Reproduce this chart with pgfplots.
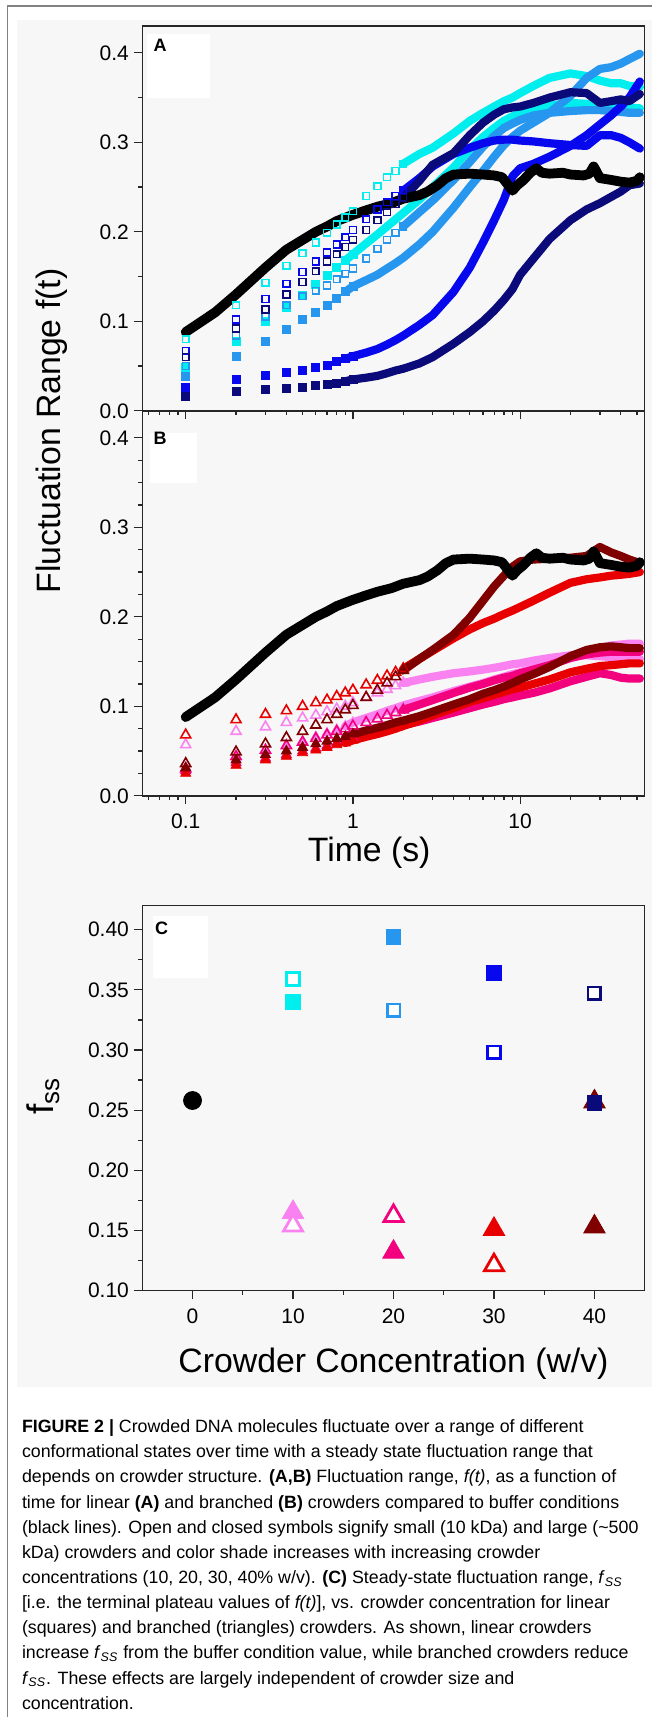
\documentclass[border=0pt]{standalone}
\usepackage{pgfplots}
\pgfplotsset{compat=1.18}
\usepackage{pgfplotstable}
\usepackage{fontspec}
\setmainfont{Liberation Sans}

\definecolor{ccyan}{RGB}{0,238,238}
\definecolor{cdodger}{RGB}{38,150,238}
\definecolor{cblue}{RGB}{8,8,238}
\definecolor{cnavy}{RGB}{10,10,122}
\definecolor{cviolet}{RGB}{250,130,240}
\definecolor{cpink}{RGB}{242,0,125}
\definecolor{cred}{RGB}{232,0,0}
\definecolor{cdred}{RGB}{128,0,0}
\definecolor{bggray}{RGB}{247,247,247}
\definecolor{framegray}{RGB}{130,130,130}

% panel A: linear crowders (s1/s2 10%, s3/s4 20%, s5/s6 30%, s7/s8 40%; odd = open/small, even = filled/large)
\pgfplotstableread{
t    s1    s2    s3    s4    s5    s6    s7    s8
0.1  0.080 0.049 0.050 0.038 0.067 0.026 0.060 0.016
0.2  0.118 0.077 0.084 0.061 0.102 0.035 0.092 0.022
0.3  0.143 0.100 0.105 0.077 0.125 0.039 0.113 0.024
0.4  0.162 0.116 0.118 0.091 0.142 0.043 0.130 0.025
0.5  0.176 0.129 0.128 0.102 0.155 0.045 0.144 0.026
0.6  0.188 0.141 0.134 0.110 0.167 0.049 0.156 0.028
0.7  0.199 0.151 0.140 0.118 0.177 0.051 0.167 0.029
0.8  0.208 0.160 0.147 0.126 0.186 0.055 0.175 0.031
0.9  0.216 0.168 0.153 0.133 0.194 0.058 0.183 0.033
1.0  0.223 0.175 0.159 0.139 0.202 0.061 0.191 0.035
1.2  0.240 0.187 0.170 0.146 0.214 0.065 0.202 0.037
1.4  0.251 0.197 0.181 0.152 0.225 0.069 0.213 0.039
1.6  0.261 0.206 0.191 0.159 0.233 0.074 0.222 0.042
1.8  0.268 0.214 0.199 0.165 0.240 0.079 0.231 0.045
2.0  0.276 0.221 0.206 0.171 0.246 0.084 0.238 0.047
2.5  0.287 0.236 0.222 0.186 0.260 0.096 0.257 0.053
3    0.294 0.250 0.235 0.200 0.273 0.107 0.275 0.060
4    0.310 0.272 0.258 0.227 0.287 0.133 0.288 0.075
5    0.324 0.292 0.278 0.250 0.294 0.160 0.308 0.088
6    0.333 0.306 0.295 0.268 0.299 0.188 0.322 0.100
7    0.340 0.316 0.307 0.284 0.302 0.213 0.331 0.112
8    0.346 0.324 0.316 0.297 0.303 0.236 0.337 0.124
9    0.350 0.329 0.321 0.306 0.303 0.262 0.339 0.136
10   0.355 0.333 0.325 0.313 0.302 0.271 0.340 0.152
12   0.363 0.338 0.330 0.322 0.301 0.276 0.344 0.170
15   0.372 0.341 0.333 0.333 0.299 0.284 0.350 0.192
20   0.377 0.344 0.335 0.352 0.297 0.296 0.356 0.213
25   0.374 0.343 0.336 0.372 0.296 0.308 0.355 0.225
30   0.369 0.342 0.336 0.382 0.308 0.320 0.344 0.232
35   0.366 0.341 0.335 0.384 0.308 0.330 0.346 0.239
40   0.366 0.340 0.334 0.388 0.305 0.340 0.348 0.245
45   0.363 0.339 0.333 0.393 0.300 0.350 0.346 0.252
52   0.362 0.338 0.333 0.399 0.293 0.368 0.354 0.254
}\tabA

% panel B: branched crowders, same column layout
\pgfplotstableread{
t    s1    s2    s3    s4    s5    s6    s7    s8
0.1  0.057 0.032 0.030 0.028 0.068 0.025 0.036 0.031
0.2  0.072 0.043 0.044 0.037 0.085 0.034 0.049 0.040
0.3  0.077 0.050 0.051 0.042 0.091 0.040 0.058 0.046
0.4  0.082 0.056 0.056 0.046 0.095 0.044 0.065 0.050
0.5  0.087 0.061 0.060 0.050 0.100 0.048 0.072 0.054
0.6  0.090 0.066 0.064 0.053 0.104 0.051 0.079 0.058
0.7  0.094 0.070 0.068 0.056 0.107 0.054 0.085 0.061
0.8  0.097 0.074 0.072 0.059 0.111 0.057 0.091 0.064
0.9  0.100 0.078 0.075 0.062 0.115 0.059 0.096 0.066
1.0  0.104 0.082 0.078 0.065 0.118 0.062 0.101 0.069
1.2  0.110 0.087 0.082 0.069 0.124 0.066 0.110 0.073
1.4  0.115 0.091 0.086 0.072 0.129 0.069 0.118 0.076
1.6  0.119 0.095 0.090 0.075 0.134 0.072 0.126 0.079
1.8  0.123 0.098 0.093 0.077 0.138 0.075 0.133 0.082
2.0  0.126 0.101 0.096 0.079 0.142 0.078 0.140 0.084
2.5  0.130 0.106 0.102 0.083 0.153 0.084 0.153 0.089
3    0.133 0.110 0.107 0.087 0.162 0.090 0.163 0.094
4    0.137 0.117 0.115 0.093 0.176 0.098 0.180 0.102
5    0.139 0.122 0.121 0.098 0.186 0.105 0.199 0.108
6    0.141 0.126 0.125 0.102 0.193 0.109 0.218 0.114
7    0.143 0.130 0.129 0.105 0.198 0.113 0.234 0.118
8    0.145 0.133 0.132 0.108 0.203 0.116 0.246 0.122
9    0.147 0.136 0.134 0.110 0.207 0.119 0.256 0.126
10   0.148 0.138 0.137 0.112 0.211 0.121 0.262 0.130
12   0.151 0.142 0.141 0.115 0.218 0.125 0.264 0.136
15   0.154 0.147 0.146 0.120 0.227 0.130 0.265 0.144
20   0.157 0.154 0.154 0.128 0.238 0.138 0.266 0.156
25   0.157 0.160 0.158 0.133 0.242 0.142 0.268 0.163
30   0.156 0.165 0.160 0.137 0.244 0.145 0.278 0.166
35   0.155 0.168 0.161 0.135 0.246 0.146 0.272 0.167
40   0.155 0.169 0.161 0.132 0.247 0.147 0.268 0.166
45   0.154 0.170 0.161 0.131 0.248 0.148 0.264 0.165
52   0.153 0.170 0.161 0.131 0.250 0.148 0.260 0.165
}\tabB

% buffer (black line), shown in A and B
\pgfplotstableread{
t    f
0.1  0.088
0.15 0.110
0.2  0.130
0.3  0.160
0.4  0.180
0.5  0.191
0.6  0.200
0.7  0.206
0.8  0.212
1.0  0.219
1.2  0.224
1.4  0.228
1.7  0.232
2.0  0.237
2.5  0.241
2.8  0.245
3.2  0.252
3.6  0.260
4.0  0.264
5.0  0.265
6.0  0.264
7.0  0.263
7.8  0.261
8.5  0.252
9.0  0.246
9.6  0.252
10.5 0.258
11.5 0.266
12.5 0.271
13.5 0.266
15   0.265
18   0.266
20   0.264
24   0.263
26   0.265
27.5 0.273
28.5 0.268
30   0.260
35   0.258
40   0.256
45   0.255
50   0.257
52   0.261
}\tabK

% open symbols: marks up to 2 s, then a thick band
\newcommand{\serO}[5]{%
  \addplot[#3, only marks, mark=#4, mark size=#5, mark options={line width=0.8pt}]
    table[x=t, y=#2, skip coords between index={15}{99}] {#1};
  \addplot[#3, line width=4.1pt, line join=round, line cap=round, mark=none]
    table[x=t, y=#2, skip coords between index={0}{14}] {#1};
}
% filled symbols: marks up to 1 s, then a thick band
\newcommand{\serF}[5]{%
  \addplot[#3, only marks, mark=#4, mark size=#5]
    table[x=t, y=#2, skip coords between index={10}{99}] {#1};
  \addplot[#3, line width=4.1pt, line join=round, line cap=round, mark=none]
    table[x=t, y=#2, skip coords between index={0}{8}] {#1};
}

\pgfplotsset{
  panel/.style={
    scale only axis, width=251.2pt, height=192.4pt, anchor=north west,
    axis line style={line width=0.75pt, black!85},
    tick style={line width=0.6pt, black!85},
    major tick length=4.2pt, minor tick length=2pt,
    tick align=outside, xtick pos=left, ytick pos=left,
    tick label style={font=\fontsize{10.5}{11}\selectfont},
    /pgf/number format/assume math mode=true,
    yticklabel style={anchor=east, inner sep=0pt, xshift=-2.3pt},
    xticklabel style={anchor=north, inner sep=0pt, yshift=-4.6pt},
  },
  timepanel/.style={panel, xmin=0.055, xmax=55.6, ymin=0, ymax=0.43,
    xtick={0.1,1,10},
    minor xtick={0.06,0.07,0.08,0.09,0.2,0.3,0.4,0.5,0.6,0.7,0.8,0.9,2,3,4,5,6,7,8,9,20,30,40,50},
    ytick={0,0.1,0.2,0.3,0.4},
    yticklabels={0.0,0.1,0.2,0.3,0.4},
  },
}

\begin{document}
\begin{tikzpicture}
\path[use as bounding box] (0pt,0pt) rectangle (326pt,-858.5pt);
\fill[bggray] (8.35pt,-10pt) rectangle (326pt,-693.35pt);
\draw[framegray, line width=0.75pt] (3.65pt,-858.5pt) -- (3.65pt,-3pt) -- (326pt,-3pt);

% ---- A ----
\begin{axis}[xmode=log, timepanel, at={(71.15pt,-13pt)}, xticklabels={,,}, minor y tick num=1]
\serF{\tabA}{s2}{ccyan}{square*}{2pt}
\serO{\tabA}{s1}{ccyan}{square}{1.7pt}
\serF{\tabA}{s4}{cdodger}{square*}{2pt}
\serO{\tabA}{s3}{cdodger}{square}{1.7pt}
\serF{\tabA}{s6}{cblue}{square*}{2pt}
\serO{\tabA}{s5}{cblue}{square}{1.7pt}
\serF{\tabA}{s8}{cnavy}{square*}{2pt}
\serO{\tabA}{s7}{cnavy}{square}{1.7pt}
\addplot[black, line width=4.9pt, line join=round, line cap=round, mark=none] table[x=t, y=f] {\tabK};
\end{axis}

% ---- B ----
\begin{axis}[xmode=log, timepanel, at={(71.15pt,-205.5pt)}, xticklabels={0.1,1,10}, minor y tick num=3]
\serF{\tabB}{s2}{cviolet}{triangle*}{2.9pt}
\serO{\tabB}{s1}{cviolet}{triangle}{2.9pt}
\serF{\tabB}{s4}{cpink}{triangle*}{2.9pt}
\serO{\tabB}{s3}{cpink}{triangle}{2.9pt}
\serF{\tabB}{s6}{cred}{triangle*}{2.9pt}
\serO{\tabB}{s5}{cred}{triangle}{2.9pt}
\serF{\tabB}{s8}{cdred}{triangle*}{2.9pt}
\serO{\tabB}{s7}{cdred}{triangle}{2.9pt}
\addplot[black, line width=4.9pt, line join=round, line cap=round, mark=none] table[x=t, y=f] {\tabK};
\end{axis}

% ---- C ----
\begin{axis}[panel, at={(71.15pt,-452.85pt)},
  xmin=-5, xmax=45, ymin=0.1, ymax=0.42,
  xtick={0,10,20,30,40}, minor x tick num=1,
  ytick={0.10,0.15,0.20,0.25,0.30,0.35,0.40}, minor y tick num=1,
  yticklabels={0.10,0.15,0.20,0.25,0.30,0.35,0.40},
  sqF/.style={only marks, mark=square*, mark size=3.6pt},
  sqO/.style={only marks, mark=square*, mark size=3.2pt, mark options={fill=white, line width=1.4pt}},
  trF/.style={only marks, mark=triangle*, mark size=6.2pt},
  trO/.style={only marks, mark=triangle*, mark size=5.5pt, mark options={fill=white, line width=1.4pt}},
]
\addplot[only marks, mark=*, mark size=4.5pt, black] coordinates {(0,0.258)};
\addplot[trF, cdred] coordinates {(40,0.257)};
\addplot[sqO, ccyan] coordinates {(10,0.359)};
\addplot[sqF, ccyan] coordinates {(10,0.340)};
\addplot[trF, cviolet] coordinates {(10,0.165)};
\addplot[trO, cviolet] coordinates {(10,0.154)};
\addplot[sqF, cdodger] coordinates {(20,0.394)};
\addplot[sqO, cdodger] coordinates {(20,0.333)};
\addplot[trO, cpink] coordinates {(20,0.162)};
\addplot[trF, cpink] coordinates {(20,0.132)};
\addplot[sqF, cblue] coordinates {(30,0.364)};
\addplot[sqO, cblue] coordinates {(30,0.298)};
\addplot[trF, cred] coordinates {(30,0.151)};
\addplot[trO, cred] coordinates {(30,0.121)};
\addplot[sqO, cnavy] coordinates {(40,0.347)};
\addplot[sqF, cnavy] coordinates {(40,0.256)};
\addplot[trF, cdred] coordinates {(40,0.153)};
\end{axis}

% panel tags with their empty white boxes
\fill[white] (73.35pt,-17pt) rectangle (105pt,-48.85pt);
\node[font=\bfseries\fontsize{9}{10}\selectfont] at (80pt,-22.5pt) {A};
\fill[white] (75pt,-216.35pt) rectangle (98.5pt,-241.65pt);
\node[font=\bfseries\fontsize{9}{10}\selectfont] at (80pt,-219.15pt) {B};
\fill[white] (76.5pt,-458pt) rectangle (104pt,-489.15pt);
\node[font=\bfseries\fontsize{9}{10}\selectfont] at (80.85pt,-464.15pt) {C};

% axis titles
\node[rotate=90, anchor=base, font=\fontsize{16.9}{18}\selectfont] at (30pt,-215.5pt) {Fluctuation Range f(t)};
\node[anchor=base, font=\fontsize{16.9}{18}\selectfont] at (184.6pt,-430.85pt) {Time (s)};
\node[rotate=90, anchor=base, font=\fontsize{18.5}{20}\selectfont] at (27pt,-548pt) {f\textsubscript{ss}};
\node[anchor=base, font=\fontsize{16.9}{18}\selectfont] at (196.75pt,-686pt) {Crowder Concentration (w/v)};

% caption
\begin{scope}[every node/.style={anchor=base west, inner sep=0pt, font=\fontsize{8.9}{10}\selectfont}]
\node at (10.8pt,-716.3pt) {\textbf{FIGURE 2 |} Crowded DNA molecules fluctuate over a range of different};
\node at (10.8pt,-728.88pt) {conformational states over time with a steady state fluctuation range that};
\node at (10.8pt,-741.45pt) {depends on crowder structure. \textbf{(A,B)} Fluctuation range, \textit{f(t)}, as a function of};
\node at (10.8pt,-754.03pt) {time for linear \textbf{(A)} and branched \textbf{(B)} crowders compared to buffer conditions};
\node at (10.8pt,-766.6pt) {(black lines). Open and closed symbols signify small (10 kDa) and large (\textasciitilde500};
\node at (10.8pt,-779.18pt) {kDa) crowders and color shade increases with increasing crowder};
\node at (10.8pt,-791.75pt) {concentrations (10, 20, 30, 40\% w/v). \textbf{(C)} Steady-state fluctuation range, \textit{f}\textsubscript{\textit{SS}}};
\node at (10.8pt,-804.33pt) {[i.e. the terminal plateau values of \textit{f(t)}], vs. crowder concentration for linear};
\node at (10.8pt,-816.9pt) {(squares) and branched (triangles) crowders. As shown, linear crowders};
\node at (10.8pt,-829.48pt) {increase \textit{f}\textsubscript{\textit{SS}} from the buffer condition value, while branched crowders reduce};
\node at (10.8pt,-842.05pt) {\textit{f}\textsubscript{\textit{SS}}. These effects are largely independent of crowder size and};
\node at (10.8pt,-854.63pt) {concentration.};
\end{scope}
\end{tikzpicture}
\end{document}
